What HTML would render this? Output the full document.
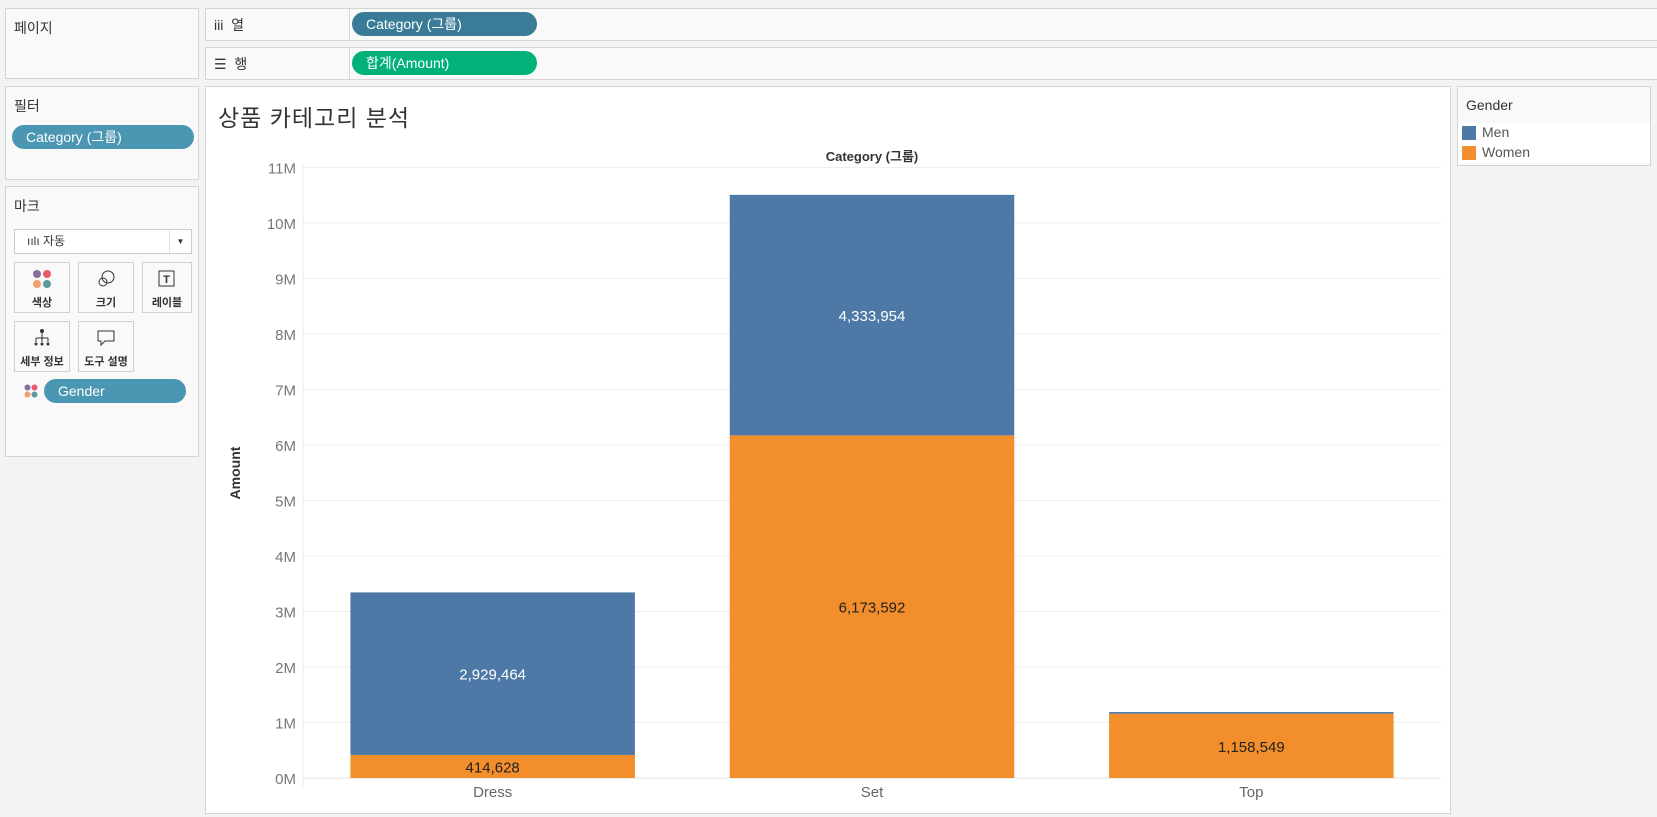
<!DOCTYPE html>
<html><head><meta charset="utf-8">
<style>
*{box-sizing:border-box;margin:0;padding:0}
body{width:1657px;height:817px;background:#f3f3f3;font-family:"Liberation Sans","Noto Sans CJK KR",sans-serif;position:relative;overflow:hidden;color:#333}
.panel{position:absolute;background:#f9f9f9;border:1px solid #d4d4d4}
.pill{position:absolute;border-radius:12px;color:#fff;font-size:14px;line-height:24px;padding-left:14px}
.lbl{position:absolute;font-size:14px;color:#333}
.btn{position:absolute;width:56px;height:51px;border:1px solid #d0d0d0;background:#f9f9f9;font-size:11px;text-align:center;font-weight:bold}
.btn span{position:absolute;left:0;right:0;top:31px}
</style></head><body>
<div class="panel" style="left:5px;top:8px;width:194px;height:71px"><div class="lbl" style="left:8px;top:9px">페이지</div></div>
<div class="panel" style="left:5px;top:86px;width:194px;height:94px">
 <div class="lbl" style="left:8px;top:9px">필터</div>
 <div class="pill" style="left:6px;top:38px;width:182px;background:#4a96b3">Category (그룹)</div>
</div>
<div class="panel" style="left:5px;top:186px;width:194px;height:271px">
 <div class="lbl" style="left:8px;top:9px">마크</div>
 <div style="position:absolute;left:8px;top:42px;width:178px;height:25px;border:1px solid #ccc;background:#fff;font-size:12px;line-height:23px;padding-left:12px">ıılı 자동<span style="position:absolute;right:0;top:0;width:22px;height:23px;border-left:1px solid #ddd;text-align:center;font-size:8px">▼</span></div>
 <div class="btn" style="left:8px;top:75px"><svg width="20" height="20" style="margin-top:6px"><circle cx="5" cy="5" r="4" fill="#8a6d9e"/><circle cx="15" cy="5" r="4" fill="#e8596c"/><circle cx="5" cy="15" r="4" fill="#f0a070"/><circle cx="15" cy="15" r="4" fill="#5b9a9a"/></svg><span>색상</span></div>
 <div class="btn" style="left:72px;top:75px"><svg width="20" height="20" style="margin-top:6px"><circle cx="12" cy="8" r="6" fill="none" stroke="#333"/><circle cx="7" cy="13" r="4" fill="none" stroke="#333"/></svg><span>크기</span></div>
 <div class="btn" style="left:136px;top:75px;width:50px"><svg width="20" height="20" style="margin-top:6px"><rect x="2" y="2" width="15" height="15" fill="none" stroke="#333"/><text x="9.5" y="14" font-size="11" text-anchor="middle" fill="#333">T</text></svg><span>레이블</span></div>
 <div class="btn" style="left:8px;top:134px"><svg width="20" height="20" style="margin-top:6px"><circle cx="10" cy="3" r="2" fill="#333"/><path d="M10 5v5M4 10h12M4 10v4M10 10v4M16 10v4" stroke="#333" fill="none"/><circle cx="4" cy="16" r="1.5" fill="#333"/><circle cx="10" cy="16" r="1.5" fill="#333"/><circle cx="16" cy="16" r="1.5" fill="#333"/></svg><span>세부 정보</span></div>
 <div class="btn" style="left:72px;top:134px"><svg width="20" height="20" style="margin-top:6px"><path d="M2 3h16v10H9l-4 4v-4H2z" fill="none" stroke="#333"/></svg><span>도구 설명</span></div>
 <svg style="position:absolute;left:18px;top:197px" width="14" height="14"><circle cx="3.5" cy="3.5" r="3" fill="#8a6d9e"/><circle cx="10.5" cy="3.5" r="3" fill="#e8596c"/><circle cx="3.5" cy="10.5" r="3" fill="#f0a070"/><circle cx="10.5" cy="10.5" r="3" fill="#5b9a9a"/></svg>
 <div class="pill" style="left:38px;top:192px;width:142px;background:#4a96b3">Gender</div>
</div>
<div class="panel" style="left:205px;top:8px;width:1460px;height:33px">
 <div class="lbl" style="left:8px;top:6px">iii&nbsp; 열</div>
 <div style="position:absolute;left:143px;top:0;width:1px;height:31px;background:#d4d4d4"></div>
 <div class="pill" style="left:146px;top:3px;width:185px;background:#3a7c98">Category (그룹)</div>
</div>
<div class="panel" style="left:205px;top:47px;width:1460px;height:33px">
 <div class="lbl" style="left:8px;top:6px">☰&nbsp; 행</div>
 <div style="position:absolute;left:143px;top:0;width:1px;height:31px;background:#d4d4d4"></div>
 <div class="pill" style="left:146px;top:3px;width:185px;background:#00b27a">합계(Amount)</div>
</div>
<div class="panel" style="left:1457px;top:86px;width:194px;height:80px">
 <div class="lbl" style="left:8px;top:10px">Gender</div>
 <div style="position:absolute;left:0;top:36px;width:192px;height:20px;background:#fff"><div style="position:absolute;left:4px;top:3px;width:14px;height:14px;background:#4e79a7"></div><div style="position:absolute;left:24px;top:1px;font-size:14px;color:#555">Men</div></div>
 <div style="position:absolute;left:0;top:56px;width:192px;height:20px;background:#fff"><div style="position:absolute;left:4px;top:3px;width:14px;height:14px;background:#f28e2b"></div><div style="position:absolute;left:24px;top:1px;font-size:14px;color:#555">Women</div></div>
</div>
<div style="position:absolute;left:205px;top:86px;width:1246px;height:728px;background:#fff;border:1px solid #d4d4d4">
 <div style="position:absolute;left:12px;top:12px;font-size:23px;color:#333;letter-spacing:1px">상품 카테고리 분석</div>
</div>
<svg id="chart" style="position:absolute;left:0;top:0" width="1657" height="817"></svg>
<script>
const categories=["Dress","Set","Top"];
const menValues=[2929464,4333954,30000];
const womenValues=[414628,6173592,1158549];
const yTicks=[0,1,2,3,4,5,6,7,8,9,10,11];
const svg=document.getElementById('chart');
const NS='http://www.w3.org/2000/svg';
const x0=303,x1=1441,yZero=778,pxPerM=55.5;
const band=(x1-x0)/categories.length;
function y(v){return yZero-v/1e6*pxPerM;}
function xc(i){return x0+band*(i+0.5);}
function mk(t,a,txt){const e=document.createElementNS(NS,t);for(const k in a)e.setAttribute(k,a[k]);if(txt!==undefined)e.textContent=txt;svg.appendChild(e);return e;}
yTicks.forEach(t=>{
 const g=mk('line',{x1:x0,x2:x1,y1:y(t*1e6),y2:y(t*1e6),stroke:'#efefef','stroke-width':1});
 
 
 const l=mk('text',{x:296,y:y(t*1e6)+6,'text-anchor':'end','font-size':15,fill:'#777','font-family':'Liberation Sans, sans-serif'},t+'M');
 
 
});
const ax=mk('line',{x1:x0,x2:x0,y1:165,y2:yZero+10,stroke:'#eee'});


const bl=mk('line',{x1:x0,x2:x1,y1:yZero+0.5,y2:yZero+0.5,stroke:'#eee'});


const ct=mk('text',{x:(x0+x1)/2,y:161,'text-anchor':'middle','font-size':13,'font-weight':'bold',fill:'#333','font-family':'Liberation Sans, Noto Sans CJK KR, sans-serif'},'Category (그룹)');


const yt=mk('text',{x:0,y:0,transform:'translate(240,473) rotate(-90)','text-anchor':'middle','font-size':14,'font-weight':'bold',fill:'#333','font-family':'Liberation Sans, sans-serif'},'Amount');


const bw=band*0.75;
categories.forEach((c,i)=>{
 const w=womenValues[i],m=menValues[i];
 const rw=mk('rect',{x:xc(i)-bw/2,y:y(w),width:bw,height:yZero-y(w),fill:'#f28e2b'});
 
 
 const rm=mk('rect',{x:xc(i)-bw/2,y:y(w+m),width:bw,height:y(w)-y(w+m),fill:'#4e79a7'});
 
 
 const lw=mk('text',{x:xc(i),y:(y(w)+yZero)/2+6,'text-anchor':'middle','font-size':15,fill:'#222','font-family':'Liberation Sans, sans-serif'},w.toLocaleString('en-US'));
 
 
 if(y(w)-y(w+m)>30){
  const lm=mk('text',{x:xc(i),y:(y(w)+y(w+m))/2+6,'text-anchor':'middle','font-size':15,fill:'#fff','font-family':'Liberation Sans, sans-serif'},m.toLocaleString('en-US'));
  
  
 }
 const xl=mk('text',{x:xc(i),y:797,'text-anchor':'middle','font-size':15,fill:'#666','font-family':'Liberation Sans, sans-serif'},c);
 
 
});
</script>
</body></html>
